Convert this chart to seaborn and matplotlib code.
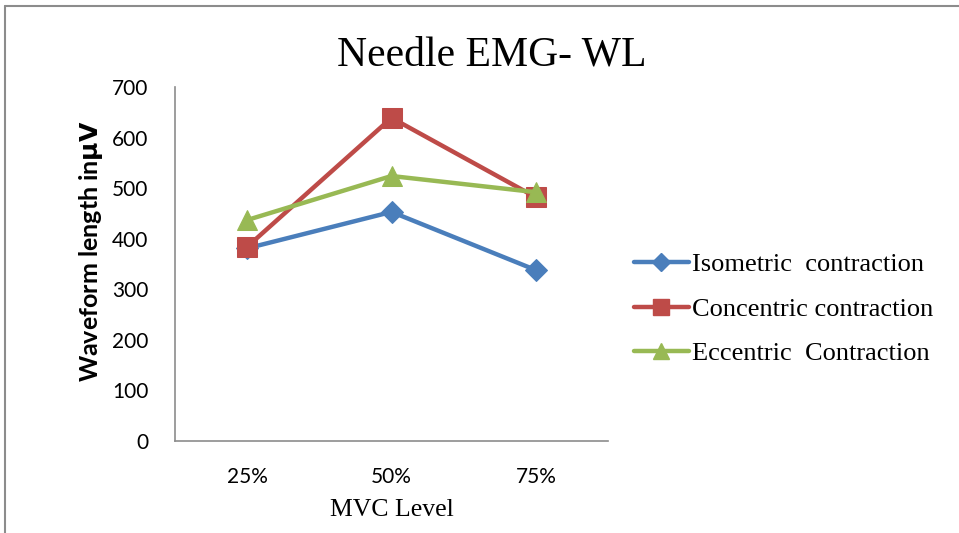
import matplotlib
matplotlib.use("Agg")
import matplotlib.pyplot as plt
import seaborn as sns
import pandas as pd
from matplotlib.lines import Line2D

levels = ["25%", "50%", "75%"]
series_names = ["Isometric  contraction", "Concentric contraction", "Eccentric  Contraction"]
isometric = [381, 453, 338]
concentric = [384, 639, 482]
eccentric = [437, 524, 492]
y_ticks = [0, 100, 200, 300, 400, 500, 600, 700]

colors = ["#4A7EBB", "#BE4B48", "#98B954"]
markers = ["D", "s", "^"]

rows = []
for name, vals in zip(series_names, [isometric, concentric, eccentric]):
    for lv, v in zip(levels, vals):
        rows.append({"MVC Level": lv, "value": v, "series": name})
df = pd.DataFrame(rows)
df["xpos"] = df["MVC Level"].map({l: i for i, l in enumerate(levels)})

sns.set_style("white")
plt.rcParams["text.color"] = "black"
plt.rcParams["axes.labelcolor"] = "black"
fig = plt.figure(figsize=(9.59, 5.33), dpi=100)
ax = fig.add_axes([175/959, 1-441/533, (608-175)/959, (441-87)/533])

sizes = {"D": 11, "s": 14, "^": 14}
for name, c, m in zip(series_names, colors, markers):
    sub = df[df["series"] == name]
    sns.lineplot(data=sub, x="xpos", y="value", ax=ax, color=c, linewidth=3.2,
                 marker=m, markersize=sizes[m], markeredgecolor=c, legend=False)

ax.set_xlim(-0.5, 2.5)
ax.set_ylim(0, 700)
ax.set_xticks(range(len(levels)))
ax.set_xticklabels(levels)
ax.set_yticks(y_ticks)
ax.tick_params(axis="both", length=0, labelsize=15, labelcolor="black")
for lab in ax.get_xticklabels() + ax.get_yticklabels():
    lab.set_family("Lato")
ax.tick_params(axis="y", pad=19)
ax.tick_params(axis="x", pad=19)
for s in ["top", "right"]:
    ax.spines[s].set_visible(False)
for s in ["left", "bottom"]:
    ax.spines[s].set_color("#8c8c8c")
    ax.spines[s].set_linewidth(1.2)

ax.set_xlabel("MVC Level", family="Liberation Serif", fontsize=18.5, labelpad=8,
              color="black")
ax.set_ylabel(r"Waveform length in$\mathbf{\mu V}$", family="Lato", fontsize=18,
              fontweight="bold", color="black")
ax.yaxis.set_label_coords(-0.162, 0.537)
fig.text(0.513, 1-55/533, "Needle EMG- WL", family="Liberation Serif", fontsize=30,
         ha="center", va="center", color="black")

handles = [Line2D([0], [0], color=c, marker=m, linewidth=3.2,
                  markersize=sizes[m] * 0.85, markeredgecolor=c)
           for c, m in zip(colors, markers)]
leg = fig.legend(handles, series_names, loc="center left",
                 bbox_to_anchor=(610/959, 1-309/533), frameon=False,
                 prop={"family": "Liberation Serif", "size": 19},
                 handlelength=2.1, handletextpad=0.1, labelspacing=0.8)
for t in leg.get_texts():
    t.set_color("black")

# outer border (top and left)
fig.add_artist(Line2D([5/959, 5/959], [0, 1-6/533], color="#8c8c8c", linewidth=1.5,
                      transform=fig.transFigure))
fig.add_artist(Line2D([5/959, 1], [1-6/533, 1-6/533], color="#8c8c8c", linewidth=1.5,
                      transform=fig.transFigure))

fig.savefig("out.png", dpi=100)
